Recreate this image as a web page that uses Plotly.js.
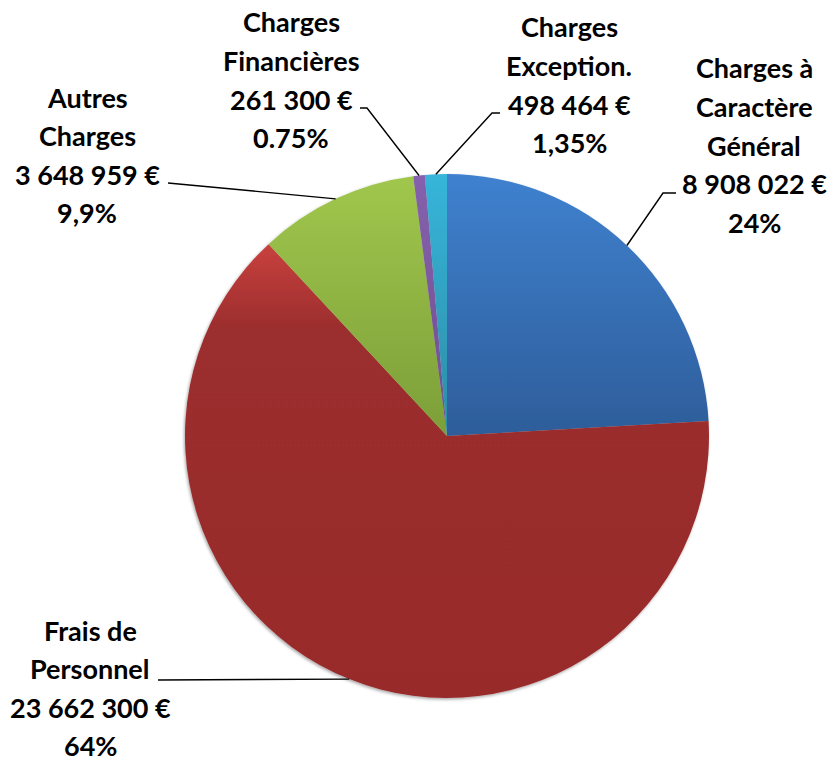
<!DOCTYPE html>
<html>
<head>
<meta charset="utf-8">
<script src="https://cdn.plot.ly/plotly-3.0.1.min.js"></script>
<style>
  html, body { margin: 0; padding: 0; background: #fff; }
  #chart { width: 834px; height: 762px; }
</style>
</head>
<body>
<div id="chart"></div>
<script>
// ---- data ----
const categories = ['Charges à Caractère Général', 'Frais de Personnel', 'Autres Charges', 'Charges Financières', 'Charges Exception.'];
const values = [8908022, 23662300, 3648959, 261300, 498464];
const nameLines = [['Charges à', 'Caractère', 'Général'], ['Frais de', 'Personnel'], ['Autres', 'Charges'], ['Charges', 'Financières'], ['Charges', 'Exception.']];
const valueLabels = ['8 908 022 €', '23 662 300 €', '3 648 959 €', '261 300 €', '498 464 €'];
const percentLabels = ['24%', '64%', '9,9%', '0.75%', '1,35%'];

// ---- styling ----
const baseColors = ['#3a77c4', '#9b2d2d', '#92b944', '#7d5aa4', '#34abcd'];
const gradients = [
  [[0, '#3f81cf'], [1, '#2e5d9a']],
  [[0, '#c8413e'], [0.19, '#9b2d2d'], [1, '#982c2c']],
  [[0, '#a0c74d'], [1, '#7c9e38']],
  [[0, '#8561ad'], [1, '#6f4f8e']],
  [[0, '#37b5da'], [1, '#2c8ca6']]
];
const W = 834, H = 762;
const M = { l: 185, r: 125, t: 174, b: 64 };
const plotW = W - M.l - M.r, plotH = H - M.t - M.b;
const px = x => (x - M.l) / plotW;
const py = y => (H - M.b - y) / plotH;
const FONT = { family: 'Lato, "Open Sans", sans-serif', size: 27, color: '#000', weight: 700 };
const LINE = 38.6;
// label block placement (pixel centre x, first line centre y)
const labelPos = [[754, 68], [90, 630], [87, 97], [291, 22], [569, 27]];
// leader line bend points (pixels), from the pie edge outward
const leaderPts = [
  [[663, 193], [676, 193]],
  [[158, 680]],
  [[168, 183]],
  [[367, 108], [360, 108]],
  [[492, 113], [500, 113]]
];

const total = values.reduce((a, b) => a + b, 0);
const annotations = [];
const shapes = [];
let cum = 0;
values.forEach((v, i) => {
  const mid = (cum + v / 2) / total;
  cum += v;
  const th = mid * 2 * Math.PI;
  const ex = 0.5 + 0.5 * Math.sin(th);
  const ey = 0.5 + 0.5 * Math.cos(th);
  let path = 'M ' + ex + ',' + ey;
  leaderPts[i].forEach(p => { path += ' L ' + px(p[0]) + ',' + py(p[1]); });
  shapes.push({ type: 'path', xref: 'paper', yref: 'paper', path: path, line: { color: '#000', width: 1.4 } });
  const lines = nameLines[i].concat([valueLabels[i], percentLabels[i]]);
  lines.forEach((t, k) => {
    annotations.push({
      xref: 'paper', yref: 'paper', x: px(labelPos[i][0]), y: py(labelPos[i][1] + k * LINE),
      xanchor: 'center', yanchor: 'middle', showarrow: false, text: t, font: FONT
    });
  });
});

const data = [{
  type: 'pie',
  labels: categories,
  values: values,
  sort: false,
  direction: 'clockwise',
  rotation: 0,
  textinfo: 'none',
  hoverinfo: 'label+value+percent',
  marker: { colors: baseColors, line: { width: 0 } },
  domain: { x: [0, 1], y: [0, 1] }
}];

const layout = {
  width: W, height: H,
  margin: M,
  showlegend: false,
  paper_bgcolor: '#fff',
  plot_bgcolor: '#fff',
  annotations: annotations,
  shapes: shapes
};

const gd = document.getElementById('chart');
Plotly.newPlot(gd, data, layout, { displayModeBar: false, staticPlot: true }).then(() => {
  const NS = 'http://www.w3.org/2000/svg';
  const svg = gd.querySelector('.main-svg');
  let defs = svg.querySelector('defs');
  if (!defs) { defs = document.createElementNS(NS, 'defs'); svg.insertBefore(defs, svg.firstChild); }
  gradients.forEach((stops, i) => {
    const g = document.createElementNS(NS, 'linearGradient');
    g.setAttribute('id', 'sliceGrad' + i);
    g.setAttribute('x1', '0'); g.setAttribute('y1', '0');
    g.setAttribute('x2', '0'); g.setAttribute('y2', '1');
    stops.forEach(s => {
      const st = document.createElementNS(NS, 'stop');
      st.setAttribute('offset', s[0]);
      st.setAttribute('stop-color', s[1]);
      g.appendChild(st);
    });
    defs.appendChild(g);
  });
  const f = document.createElementNS(NS, 'filter');
  f.setAttribute('id', 'pieShadow');
  f.setAttribute('x', '-10%'); f.setAttribute('y', '-10%');
  f.setAttribute('width', '120%'); f.setAttribute('height', '120%');
  const ds = document.createElementNS(NS, 'feDropShadow');
  ds.setAttribute('dx', '-1'); ds.setAttribute('dy', '1.5');
  ds.setAttribute('stdDeviation', '1.5');
  ds.setAttribute('flood-color', '#000');
  ds.setAttribute('flood-opacity', '0.35');
  f.appendChild(ds);
  defs.appendChild(f);
  gd.querySelectorAll('.slice path.surface').forEach((p, i) => {
    p.style.fill = 'url(#sliceGrad' + i + ')';
  });
  const trace = gd.querySelector('.pielayer .trace');
  if (trace) trace.setAttribute('filter', 'url(#pieShadow)');
});
</script>
</body>
</html>
